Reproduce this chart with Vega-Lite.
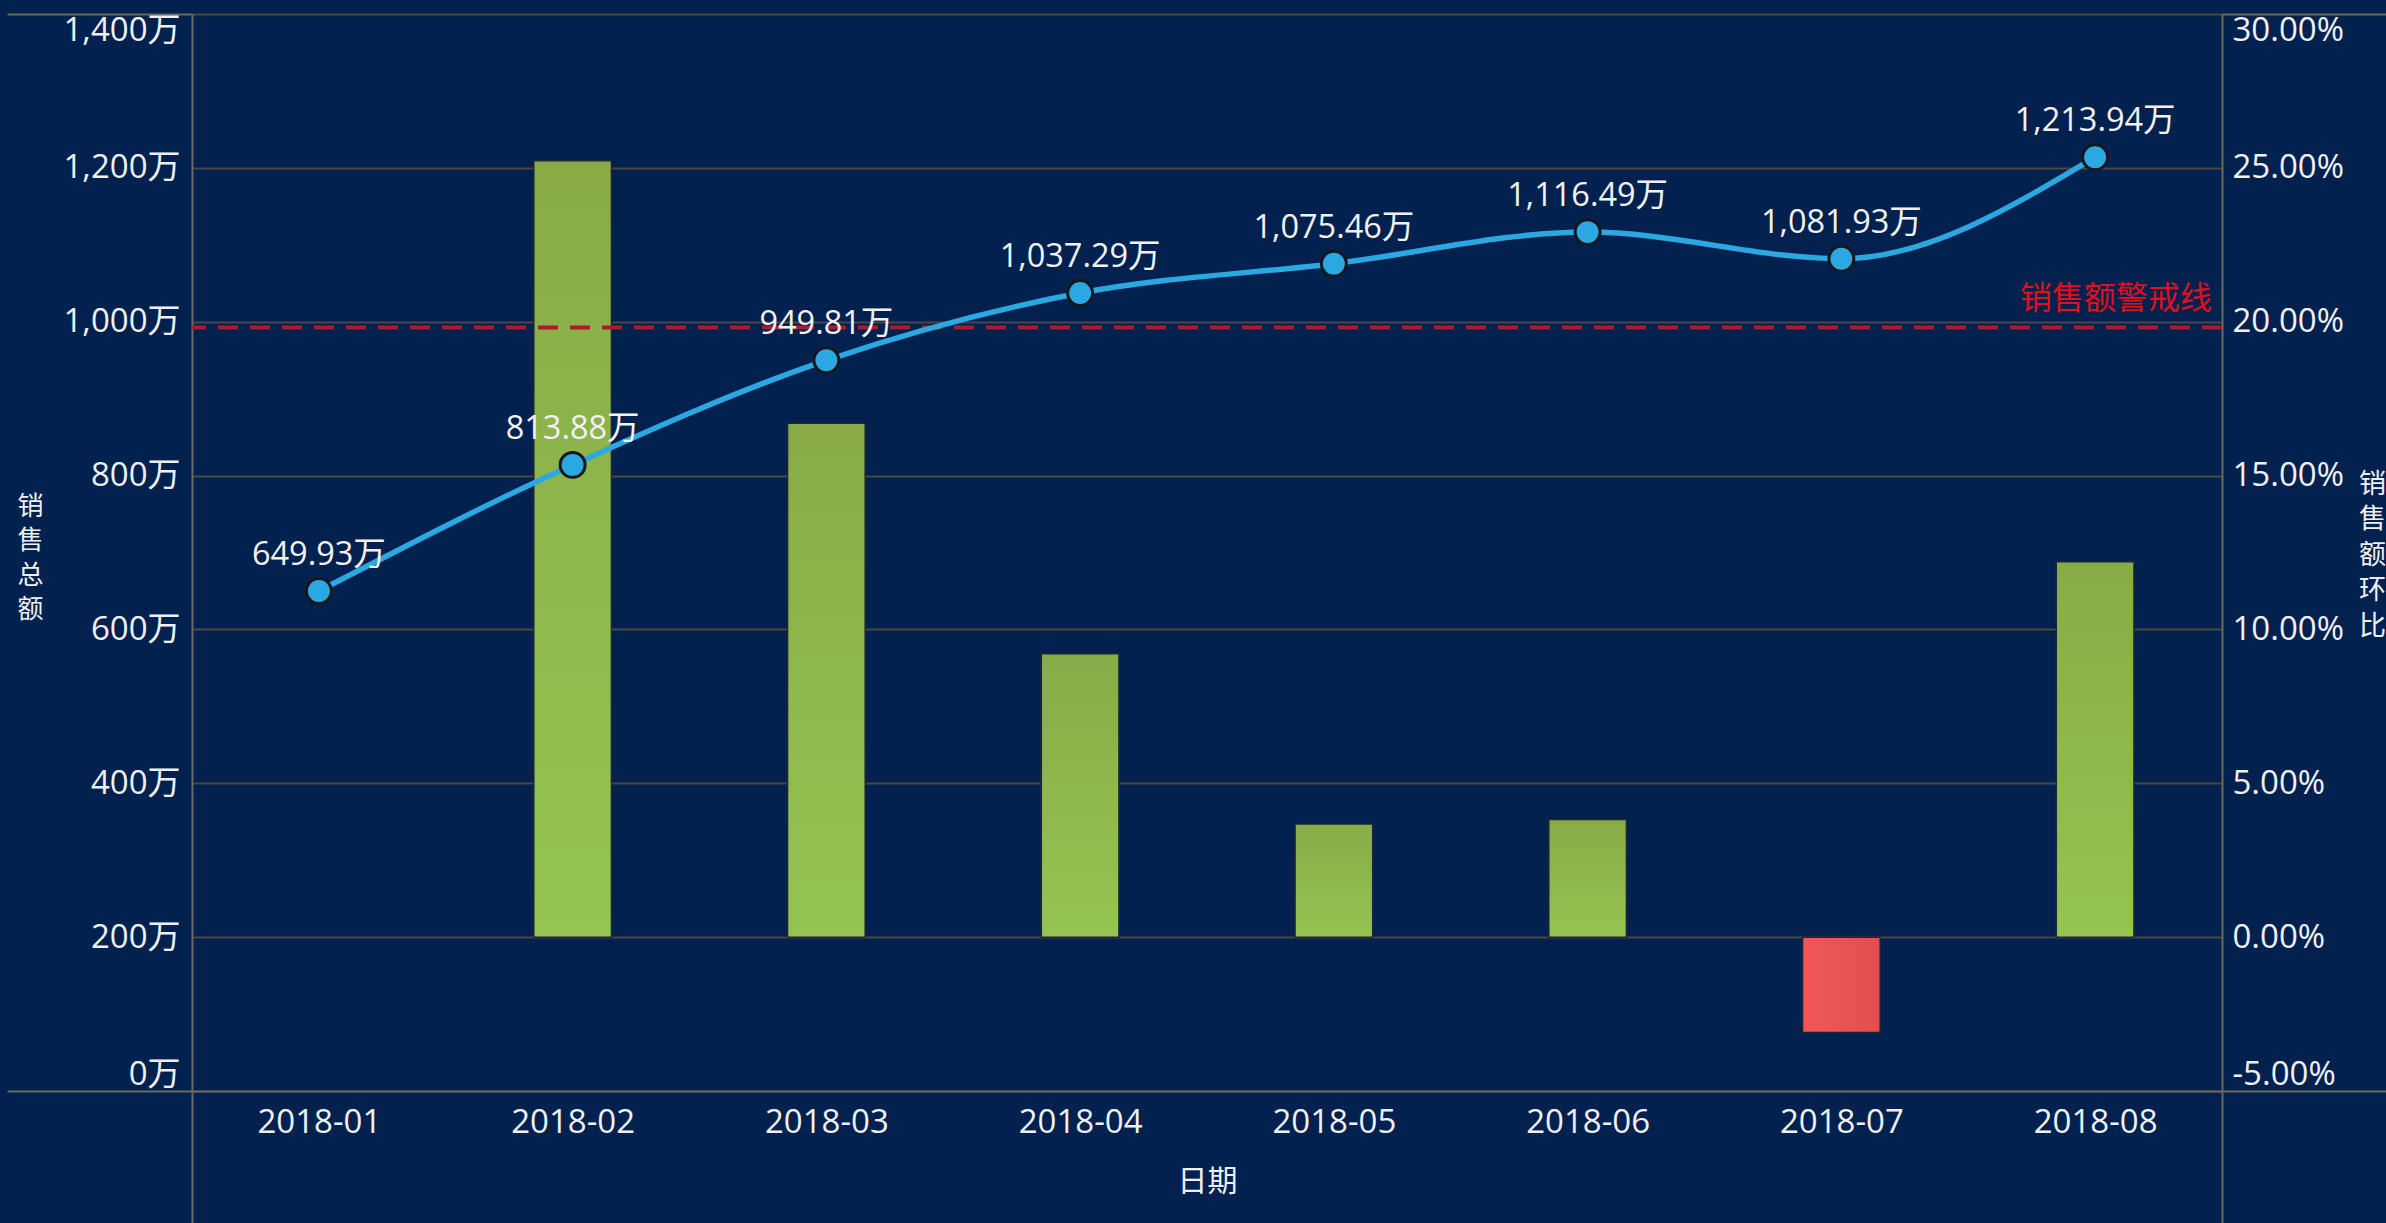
{
  "$schema": "https://vega.github.io/schema/vega-lite/v6.json",
  "width": 2030,
  "height": 1077,
  "autosize": {"type": "none"},
  "padding": {"left": 192, "top": 14, "right": 164, "bottom": 132},
  "background": "#02214e",
  "view": {"stroke": null},
  "config": {
    "font": "'Open Sans', 'Noto Sans CJK SC', sans-serif",
    "axis": {
      "labelFont": "'Open Sans', 'Noto Sans CJK SC', sans-serif",
      "titleFont": "'Noto Sans CJK SC', sans-serif",
      "labelFontSize": 33,
      "titleFontSize": 26,
      "labelColor": "#f0f0f0",
      "titleColor": "#f0f0f0",
      "titleFontWeight": "normal"
    },
    "text": {"font": "'Open Sans', 'Noto Sans CJK SC', sans-serif"}
  },
  "datasets": {
    "sales": [
      {"month": "2018-01", "sales": 649.93, "mom": null, "label": "649.93万"},
      {"month": "2018-02", "sales": 813.88, "mom": 0.2523, "label": "813.88万"},
      {"month": "2018-03", "sales": 949.81, "mom": 0.1670, "label": "949.81万"},
      {"month": "2018-04", "sales": 1037.29, "mom": 0.0921, "label": "1,037.29万"},
      {"month": "2018-05", "sales": 1075.46, "mom": 0.0368, "label": "1,075.46万"},
      {"month": "2018-06", "sales": 1116.49, "mom": 0.0382, "label": "1,116.49万"},
      {"month": "2018-07", "sales": 1081.93, "mom": -0.0310, "label": "1,081.93万"},
      {"month": "2018-08", "sales": 1213.94, "mom": 0.1220, "label": "1,213.94万"}
    ],
    "warn": [
      {"name": "销售额警戒线", "value": 992.34}
    ]
  },
  "encoding": {
    "x": {
      "field": "month", "type": "ordinal",
      "scale": {"type": "band", "paddingInner": 0, "paddingOuter": 0},
      "axis": {
        "orient": "bottom", "title": "日期", "titleFontSize": 30, "titleY": 90, "titleBaseline": "middle",
        "labelAngle": 0, "domain": true, "domainColor": "#6b6864", "domainWidth": 2,
        "ticks": true, "tickBand": "extent", "tickSize": 132, "tickColor": "#6b6864", "tickWidth": 2,
        "tickOpacity": {"condition": {"test": "datum.extra || datum.value == '2018-08'", "value": 1}, "value": 0},
        "labelPadding": -117, "grid": false
      }
    }
  },
  "layer": [
    {
      "data": {"name": "sales"},
      "transform": [{"filter": "datum.mom != null && datum.mom >= 0"}],
      "mark": {
        "type": "bar",
        "width": {"band": 0.306},
        "fill": {"gradient": "linear", "x1": 0, "y1": 0, "x2": 0, "y2": 1,
          "stops": [{"offset": 0, "color": "#88ab47"}, {"offset": 1, "color": "#95c452"}]},
        "stroke": "#1e2733",
        "strokeWidth": 1.5
      },
      "encoding": {
        "y": {
          "field": "mom", "type": "quantitative",
          "scale": {"domain": [-0.05, 0.3], "nice": false, "zero": false},
          "axis": {
            "orient": "right",
            "values": [-0.05, 0, 0.05, 0.1, 0.15, 0.2, 0.25, 0.3],
            "labelExpr": "(datum.value < 0 ? '-' : '') + format(abs(datum.value), '.2%')",
            "title": ["销", "售", "额", "环", "比"],
            "titleAngle": 0, "titleX": 150, "titleY": 470, "titleAlign": "center", "titleBaseline": "middle", "titleLineHeight": 35.5, "titleFontSize": 27,
            "grid": false, "domain": true, "domainColor": "#6b6864", "domainWidth": 2,
            "ticks": true, "tickSize": 164, "tickColor": "#6b6864", "tickWidth": 2,
            "tickOpacity": {"condition": {"test": "datum.value < -0.049 || datum.value > 0.299", "value": 1}, "value": 0},
            "labelPadding": -154, "labelFlush": true, "labelFlushOffset": 0
          }
        },
        "y2": {"datum": 0}
      }
    },
    {
      "data": {"name": "sales"},
      "transform": [{"filter": "datum.mom != null && datum.mom < 0"}],
      "mark": {
        "type": "bar",
        "width": {"band": 0.306},
        "fill": {"gradient": "linear", "x1": 0, "y1": 0, "x2": 1, "y2": 0,
          "stops": [{"offset": 0, "color": "#f25757"}, {"offset": 1, "color": "#e04f4f"}]},
        "stroke": "#1e2733",
        "strokeWidth": 1.5
      },
      "encoding": {
        "y": {"field": "mom", "type": "quantitative", "scale": {"domain": [-0.05, 0.3], "nice": false, "zero": false}, "axis": null},
        "y2": {"datum": 0}
      }
    },
    {
      "data": {"name": "warn"},
      "mark": {"type": "rule", "color": "#a81c2e", "strokeWidth": 4, "strokeDash": [20, 12]},
      "encoding": {
        "x": null,
        "y": {
          "field": "value", "type": "quantitative",
          "scale": {"domain": [0, 1400], "nice": false},
          "axis": {
            "orient": "left",
            "values": [0, 200, 400, 600, 800, 1000, 1200, 1400],
            "labelExpr": "format(datum.value, ',') + '万'",
            "title": ["销", "售", "总", "额"],
            "titleAngle": 0, "titleX": -162, "titleY": 492, "titleAlign": "center", "titleBaseline": "middle", "titleLineHeight": 34.5,
            "grid": true, "gridColor": "#4a4843", "gridWidth": 2,
            "domain": true, "domainColor": "#6b6864", "domainWidth": 2,
            "ticks": true, "tickSize": 185, "tickColor": "#6b6864", "tickWidth": 2,
            "tickOpacity": {"condition": {"test": "datum.value < 1 || datum.value > 1399", "value": 1}, "value": 0},
            "labelPadding": -173, "labelFlush": true, "labelFlushOffset": 0
          }
        }
      }
    },
    {
      "data": {"name": "sales"},
      "transform": [{"filter": "datum.month == '2018-08'"}],
      "mark": {"type": "text", "text": "销售额警戒线", "align": "right", "baseline": "bottom", "dx": -10, "dy": -12, "fontSize": 32, "color": "#e0101c", "font": "'Noto Sans CJK SC', sans-serif"},
      "encoding": {
        "x": {
          "field": "month", "type": "ordinal", "bandPosition": 1,
          "axis": {
            "orient": "bottom", "title": "日期", "titleFontSize": 30, "titleY": 90, "titleBaseline": "middle",
            "labelAngle": 0, "domain": true, "domainColor": "#6b6864", "domainWidth": 2,
            "ticks": true, "tickBand": "extent", "tickSize": 132, "tickColor": "#6b6864", "tickWidth": 2,
            "tickOpacity": {"condition": {"test": "datum.extra || datum.value == '2018-08'", "value": 1}, "value": 0},
            "labelPadding": -117, "grid": false
          }
        },
        "y": {"datum": 992.34, "type": "quantitative", "scale": {"domain": [0, 1400], "nice": false}, "axis": null}
      }
    },
    {
      "data": {"name": "sales"},
      "mark": {"type": "line", "interpolate": "monotone", "color": "#2ba8e1", "strokeWidth": 5.5},
      "encoding": {
        "y": {"field": "sales", "type": "quantitative", "scale": {"domain": [0, 1400], "nice": false}, "axis": null}
      }
    },
    {
      "data": {"name": "sales"},
      "mark": {"type": "circle", "size": 620, "fill": "#2ba8e1", "stroke": "#16181d", "strokeWidth": 3, "opacity": 1},
      "encoding": {
        "y": {"field": "sales", "type": "quantitative", "scale": {"domain": [0, 1400], "nice": false}, "axis": null}
      }
    },
    {
      "data": {"name": "sales"},
      "mark": {"type": "text", "align": "center", "baseline": "middle", "dy": -36, "fontSize": 32.5, "color": "#f2f2f2"},
      "encoding": {
        "y": {"field": "sales", "type": "quantitative", "scale": {"domain": [0, 1400], "nice": false}, "axis": null},
        "text": {"field": "label"}
      }
    }
  ],
  "resolve": {"scale": {"y": "independent"}, "axis": {"y": "independent"}}
}
